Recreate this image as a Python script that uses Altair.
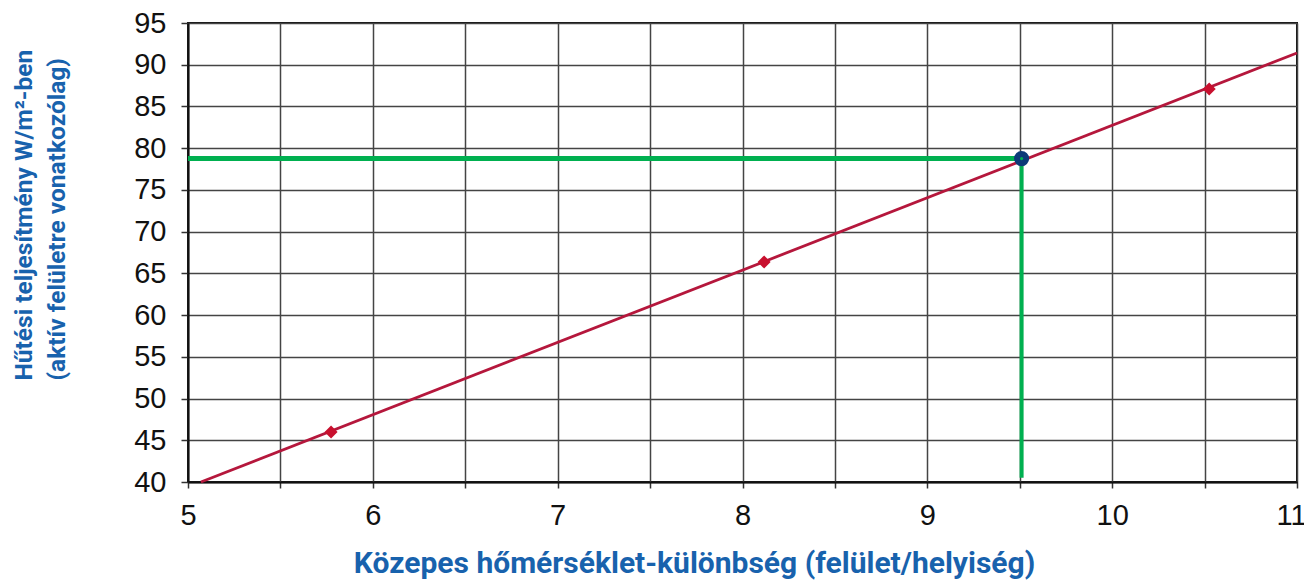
import altair as alt
import pandas as pd

# --- data ---
line_x = [5.07, 11.0]
line_y = [40.0, 91.4]

meas_x = [5.774, 8.117, 10.525]
meas_y = [46.0, 66.36, 87.09]

pick_x = 9.51
pick_y = 78.75
green_h_x = [5.0, pick_x]
green_h_y = [pick_y, pick_y]
green_v_x = [pick_x, pick_x]
green_v_y = [pick_y, 40.5]

x_ticks = [5, 5.5, 6, 6.5, 7, 7.5, 8, 8.5, 9, 9.5, 10, 10.5, 11]
y_ticks = [40, 42.5, 45, 47.5, 50, 52.5, 55, 57.5, 60, 62.5, 65, 67.5, 70,
           72.5, 75, 77.5, 80, 82.5, 85, 87.5, 90, 92.5, 95]

x_title = "Közepes hőmérséklet-különbség (felület/helyiség)"
y_title = ["Hűtési teljesítmény W/m²-ben", "(aktív felületre vonatkozólag)"]

BLUE = "#1862ad"
RED = "#b5173c"
GREEN = "#00b050"
NAVY = "#0b3a78"

line_df = pd.DataFrame({"x": line_x, "y": line_y})
meas_df = pd.DataFrame({"x": meas_x, "y": meas_y})
gh_df = pd.DataFrame({"x": green_h_x, "y": green_h_y})
gv_df = pd.DataFrame({"x": green_v_x, "y": green_v_y})
pick_df = pd.DataFrame({"x": [pick_x], "y": [pick_y]})

xscale = alt.Scale(domain=[5, 11], nice=False, zero=False)
yscale = alt.Scale(domain=[40, 95], nice=False, zero=False)

xaxis = alt.Axis(
    values=x_ticks,
    labelExpr="datum.value % 1 === 0 ? format(datum.value, 'd') : ''",
    labelFlush=False, labelOverlap=False,
    labelOffset={"condition": {"test": "datum.value === 11", "value": -6}, "value": 0},
    title=x_title, titleX=506, titleY=90, titleAlign="center",
    titleBaseline="alphabetic", titleAnchor="start",
    labelFont="Liberation Sans", labelFontSize=29, labelColor="#111",
    labelPadding=13, labelBaseline="top",
    tickSize=6, tickColor="#333", tickWidth=1.5,
    domainColor="#111", domainWidth=2,
    grid=True, gridColor="#444", gridWidth=1.5,
    titleFont="Roboto", titleFontSize=30, titleFontWeight="bold", titleColor=BLUE,
)
yaxis = alt.Axis(
    values=y_ticks,
    labelExpr="datum.value % 5 === 0 ? datum.label : ''",
    labelFlush=False, labelOverlap=False,
    title=y_title, titleX=-157, titleY=357, titleAngle=270, titleAlign="left",
    titleBaseline="alphabetic", titleLineHeight=33, titleAnchor="start",
    labelFont="Liberation Sans", labelFontSize=29, labelColor="#111",
    labelPadding=15,
    tickSize=7, tickColor="#333", tickWidth=1.5,
    domainColor="#111", domainWidth=2,
    grid=True, gridColor="#444", gridWidth=1.5,
    gridOpacity={"condition": {"test": "datum.value % 5 === 0", "value": 1}, "value": 0},
    titleFont="Roboto", titleFontSize=24.5, titleFontWeight="bold", titleColor=BLUE,
)

base_x = alt.X("x:Q", scale=xscale, axis=xaxis)
base_y = alt.Y("y:Q", scale=yscale, axis=yaxis)

reg = alt.Chart(line_df).mark_line(color=RED, strokeWidth=2.8).encode(x=base_x, y=base_y)
gh = alt.Chart(gh_df).mark_line(color=GREEN, strokeWidth=5).encode(x="x:Q", y="y:Q")
gv = alt.Chart(gv_df).mark_line(color=GREEN, strokeWidth=4).encode(x="x:Q", y="y:Q")
pts = alt.Chart(meas_df).mark_point(shape="diamond", filled=True, color="#c8102e",
                                    size=170, opacity=1).encode(x="x:Q", y="y:Q")
ring = alt.Chart(pick_df).mark_point(shape="circle", filled=True, color=NAVY,
                                     size=230, opacity=1).encode(x="x:Q", y="y:Q")
dot = alt.Chart(pick_df).mark_point(shape="circle", filled=True, color=GREEN,
                                    size=10, opacity=1).encode(x="x:Q", y="y:Q")

chart = alt.layer(reg, gh, gv, pts, ring, dot).properties(
    width=1109, height=459,
    autosize=alt.AutoSizeParams(type="none"),
    padding={"left": 180, "top": 15, "right": 7, "bottom": 100},
    background="white",
).configure_view(stroke="#111", strokeWidth=2)

chart.save("out.html", embed_options={"renderer": "svg", "actions": False})
